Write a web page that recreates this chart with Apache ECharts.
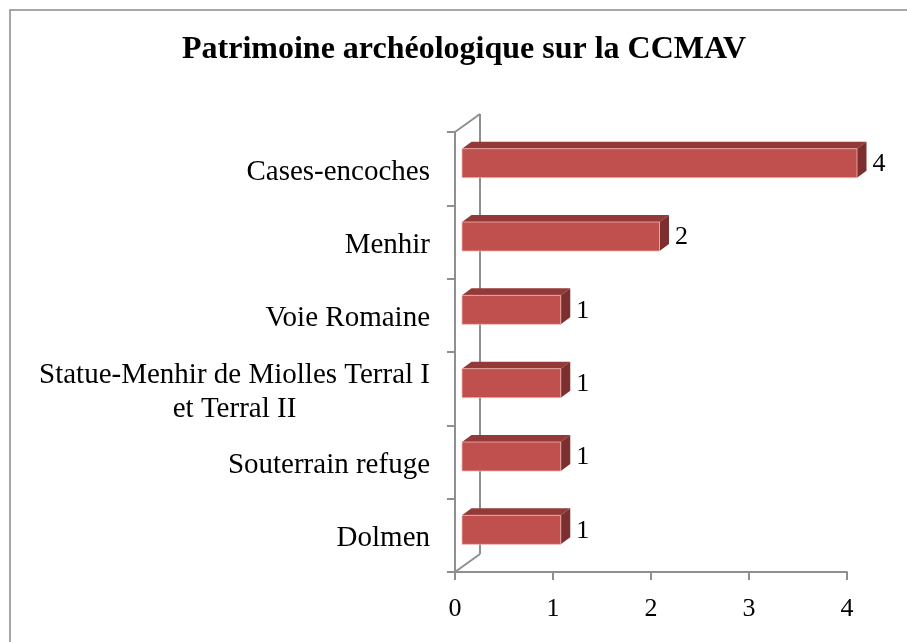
<!DOCTYPE html>
<html lang="fr">
<head>
    <meta charset="UTF-8">
    <title>Patrimoine archéologique sur la CCMAV</title>
    <style>
        html, body { margin: 0; padding: 0; background: #fff; }
    </style>
</head>
<body>
    <div id="chart" style="width:907px;height:642px;"></div>

    <script src="https://cdn.jsdelivr.net/npm/echarts@6/dist/echarts.min.js"></script>
    <script>
var categories = [
    'Cases-encoches',
    'Menhir',
    'Voie Romaine',
    'Statue-Menhir de Miolles Terral I\net Terral II',
    'Souterrain refuge',
    'Dolmen'
];
var counts = [4, 2, 1, 1, 1, 1];
var xTicks = [0, 1, 2, 3, 4];

var serif = 'Liberation Serif';
var axisGray = '#8f8f8f';

// depth of the 3D box (back wall offset)
var wallDx = 25, wallDy = 18;

function renderWall(params, api) {
    var cs = params.coordSys;
    var l = cs.x, t = cs.y, b = cs.y + cs.height;
    var st = { stroke: axisGray, lineWidth: 2, fill: null };
    return {
        type: 'group',
        silent: true,
        children: [
            { type: 'line', shape: { x1: l + wallDx, y1: t - wallDy, x2: l + wallDx, y2: b - wallDy }, style: st },
            { type: 'line', shape: { x1: l, y1: t, x2: l + wallDx, y2: t - wallDy }, style: st },
            { type: 'line', shape: { x1: l, y1: b, x2: l + wallDx, y2: b - wallDy }, style: st }
        ]
    };
}

function renderBar(params, api) {
    var v = api.value(0);
    var idx = api.value(1);
    var start = api.coord([0, idx]);
    var end = api.coord([v, idx]);
    var cy = start[1];
    var x0 = start[0] + 7;
    var x1 = end[0] + 7 + v * 0.75;
    var yT = cy - 20, yB = cy + 9;
    var dx = 9.5, dy = 7;
    return {
        type: 'group',
        children: [
            {
                type: 'polygon',
                shape: { points: [[x0, yT], [x1, yT], [x1 + dx, yT - dy], [x0 + dx, yT - dy]] },
                style: { fill: '#933a38' }
            },
            {
                type: 'polygon',
                shape: { points: [[x1, yT], [x1 + dx, yT - dy], [x1 + dx, yB - dy], [x1, yB]] },
                style: { fill: '#7c2f2e' }
            },
            {
                type: 'rect',
                shape: { x: x0, y: yT, width: x1 - x0, height: yB - yT },
                style: { fill: '#c0504d', stroke: 'rgba(240,180,178,0.8)', lineWidth: 1 }
            },
            {
                type: 'text',
                x: x1 + dx + 6,
                y: (yT + yB) / 2 + 1,
                style: {
                    text: String(v),
                    fill: '#000',
                    font: '26px "' + serif + '"',
                    textAlign: 'left',
                    textVerticalAlign: 'middle'
                }
            }
        ]
    };
}

var barData = counts.map(function (c, i) { return [c, i]; });

var option = {
    animation: false,
    backgroundColor: '#fff',
    title: {
        text: 'Patrimoine archéologique sur la CCMAV',
        left: 177,
        top: 29,
        textStyle: { fontFamily: serif, fontSize: 32, fontWeight: 'bold', color: '#000' }
    },
    graphic: [{
        type: 'rect',
        shape: { x: 10, y: 10, width: 920, height: 660 },
        style: { fill: null, stroke: '#8a8a8a', lineWidth: 1.5 },
        silent: true
    }],
    grid: { left: 455, right: 60, top: 132, bottom: 70 },
    xAxis: {
        type: 'value',
        min: xTicks[0],
        max: xTicks[xTicks.length - 1],
        interval: 1,
        axisLine: { show: true, lineStyle: { color: axisGray, width: 2 } },
        axisTick: { show: true, length: 8, lineStyle: { color: axisGray, width: 2 } },
        splitLine: { show: false },
        axisLabel: { fontFamily: serif, fontSize: 26, color: '#000', margin: 24 }
    },
    yAxis: {
        type: 'category',
        data: categories,
        inverse: true,
        axisLine: { show: true, lineStyle: { color: axisGray, width: 2 } },
        axisTick: { show: true, length: 8, lineStyle: { color: axisGray, width: 2 } },
        axisLabel: {
            fontFamily: serif,
            fontSize: 29,
            color: '#000',
            margin: 25,
            lineHeight: 34,
            padding: [7, 0, 0, 0],
            formatter: function (val) {
                var parts = val.split('\n');
                if (parts.length < 2) return val;
                return parts[0] + '\n{c|' + parts[1] + '}';
            },
            rich: {
                c: { align: 'center', fontFamily: serif, fontSize: 29, lineHeight: 34, color: '#000' }
            }
        }
    },
    series: [
        {
            type: 'custom',
            renderItem: renderWall,
            data: [[0, 0]],
            encode: { x: 0, y: 1 },
            z: 1,
            silent: true
        },
        {
            type: 'custom',
            renderItem: renderBar,
            data: barData,
            encode: { x: 0, y: 1 },
            z: 2
        }
    ]
};

var chart = echarts.init(document.getElementById('chart'));
chart.setOption(option);
    </script>
</body>
</html>
